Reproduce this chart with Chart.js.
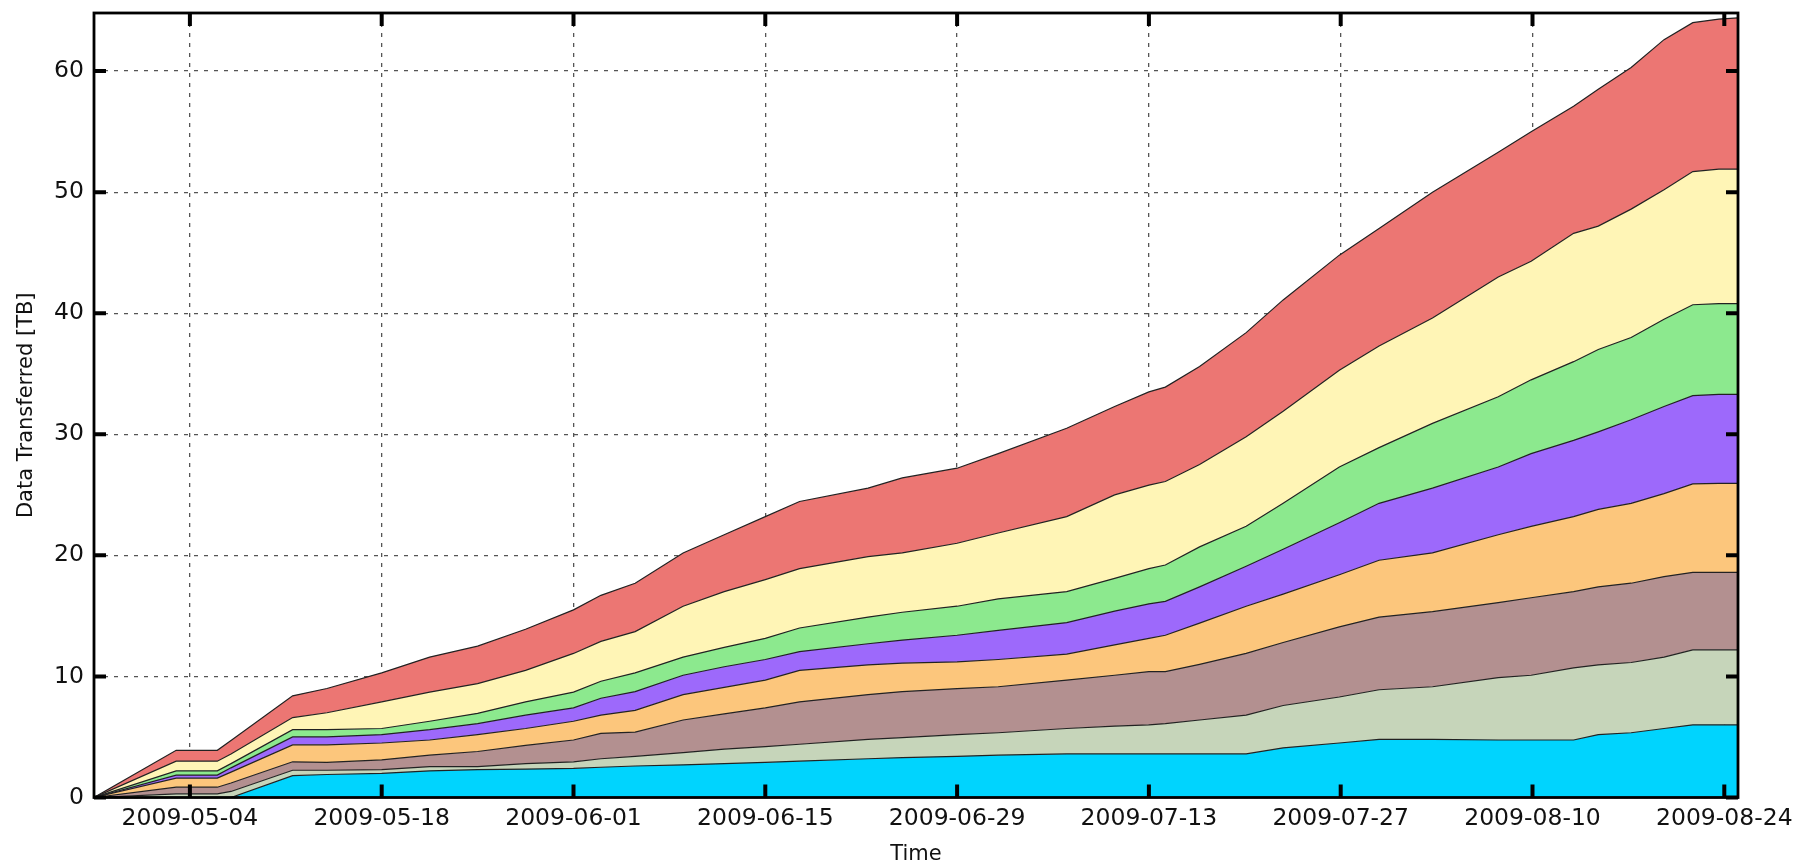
<!DOCTYPE html>
<html>
<head>
<meta charset="utf-8">
<title>Data Transferred</title>
<script src="https://cdn.jsdelivr.net/npm/chart.js@4.4.1/dist/chart.umd.min.js"></script>
<style>
  html, body { margin: 0; padding: 0; background: #fff; }
  #wrap { position: relative; width: 1815px; height: 861px; }
</style>
</head>
<body>
<div id="wrap"><canvas id="chart"></canvas></div>
<script>
// x values: days since 2009-04-27
const days = [0, 6, 9, 10, 14.5, 17, 21, 24.5, 28, 31.5,
    35, 37, 39.5, 43, 46, 49, 51.5, 56.5, 59, 63,
    66, 71, 74.5, 77, 78.2, 80.7, 84.1, 86.8, 90.9, 93.8,
    97.7, 102.5, 104.9, 108, 109.8, 112.2, 114.6, 116.7, 118.6, 120];

const xTickDays = [7, 21, 35, 49, 63, 77, 91, 105, 119];
const xTickLabels = ['2009-05-04', '2009-05-18', '2009-06-01', '2009-06-15', '2009-06-29',
    '2009-07-13', '2009-07-27', '2009-08-10', '2009-08-24'];
const yTicks = [0, 10, 20, 30, 40, 50, 60];

// cumulative top of each band (TB), bottom band first
const cyanTop = [0, 0, 0, 0, 1.8, 1.9, 2.0, 2.2, 2.3, 2.35,
    2.4, 2.5, 2.6, 2.7, 2.8, 2.9, 3.0, 3.2, 3.3, 3.4,
    3.5, 3.6, 3.6, 3.6, 3.6, 3.6, 3.6, 4.1, 4.5, 4.8,
    4.8, 4.75, 4.75, 4.75, 5.2, 5.35, 5.7, 6.0, 6.0, 6.0];
const sageTop = [0, 0.3, 0.3, 0.5, 2.25, 2.25, 2.3, 2.55, 2.55, 2.8,
    2.95, 3.2, 3.4, 3.7, 4.0, 4.2, 4.4, 4.8, 4.95, 5.2,
    5.35, 5.7, 5.9, 6.0, 6.1, 6.4, 6.8, 7.6, 8.3, 8.9,
    9.15, 9.9, 10.1, 10.7, 10.95, 11.15, 11.6, 12.2, 12.2, 12.2];
const mauveTop = [0, 0.85, 0.85, 1.2, 2.95, 2.9, 3.1, 3.5, 3.8, 4.3,
    4.75, 5.3, 5.4, 6.4, 6.9, 7.4, 7.9, 8.5, 8.75, 9.0,
    9.15, 9.7, 10.1, 10.4, 10.4, 11.0, 11.9, 12.8, 14.1, 14.9,
    15.35, 16.1, 16.5, 17.0, 17.4, 17.7, 18.25, 18.6, 18.6, 18.6];
const orangeTop = [0, 1.6, 1.6, 2.1, 4.35, 4.35, 4.5, 4.75, 5.2, 5.7,
    6.3, 6.8, 7.2, 8.5, 9.1, 9.7, 10.5, 10.95, 11.1, 11.2,
    11.4, 11.85, 12.6, 13.15, 13.4, 14.4, 15.8, 16.8, 18.4, 19.6,
    20.2, 21.7, 22.4, 23.2, 23.8, 24.3, 25.1, 25.9, 25.95, 25.95];
const purpleTop = [0, 1.85, 1.85, 2.45, 5.0, 5.0, 5.2, 5.6, 6.1, 6.8,
    7.4, 8.2, 8.75, 10.1, 10.8, 11.4, 12.05, 12.7, 13.0, 13.4,
    13.8, 14.45, 15.4, 16.0, 16.2, 17.4, 19.1, 20.5, 22.7, 24.3,
    25.55, 27.3, 28.4, 29.5, 30.2, 31.2, 32.3, 33.2, 33.3, 33.3];
const greenTop = [0, 2.2, 2.2, 2.8, 5.6, 5.6, 5.7, 6.3, 6.95, 7.9,
    8.7, 9.6, 10.3, 11.6, 12.4, 13.15, 14.0, 14.9, 15.3, 15.8,
    16.4, 17.0, 18.1, 18.9, 19.2, 20.7, 22.4, 24.3, 27.3, 28.9,
    30.9, 33.1, 34.5, 36.0, 37.0, 38.0, 39.5, 40.7, 40.8, 40.8];
const yellowTop = [0, 3.0, 3.0, 3.6, 6.6, 7.0, 7.9, 8.7, 9.4, 10.5,
    11.9, 12.9, 13.7, 15.8, 17.0, 18.0, 18.9, 19.9, 20.2, 21.0,
    21.85, 23.2, 25.0, 25.8, 26.1, 27.5, 29.8, 31.9, 35.3, 37.3,
    39.6, 43.0, 44.3, 46.6, 47.2, 48.6, 50.2, 51.7, 51.9, 51.9];
const redTop = [0, 3.9, 3.9, 4.7, 8.4, 9.0, 10.3, 11.6, 12.5, 13.9,
    15.5, 16.7, 17.7, 20.2, 21.7, 23.2, 24.45, 25.55, 26.4, 27.2,
    28.4, 30.5, 32.3, 33.5, 33.9, 35.6, 38.4, 41.1, 44.8, 47.0,
    50.0, 53.3, 55.0, 57.1, 58.5, 60.3, 62.6, 64.0, 64.3, 64.4];

const bands = [
    { values: cyanTop, color: '#00d4fe' },
    { values: sageTop, color: '#c6d5ba' },
    { values: mauveTop, color: '#b39090' },
    { values: orangeTop, color: '#fcc67c' },
    { values: purpleTop, color: '#9d69fb' },
    { values: greenTop, color: '#8ce98e' },
    { values: yellowTop, color: '#fff5b6' },
    { values: redTop, color: '#ec7673' }
];

const datasets = bands.map((b, i) => ({
    data: b.values.map((v, j) => ({ x: days[j], y: v })),
    backgroundColor: b.color,
    borderColor: '#222',
    borderWidth: 1.2,
    pointRadius: 0,
    tension: 0,
    fill: i === 0 ? 'origin' : '-1'
}));

// frame around the plot with inward tick marks on all four sides
const framePlugin = {
    id: 'frame',
    afterDraw(chart) {
        const { ctx, chartArea: a, scales } = chart;
        ctx.save();
        ctx.strokeStyle = '#000';
        ctx.lineWidth = 2.8;
        ctx.strokeRect(a.left, a.top, a.right - a.left, a.bottom - a.top);
        ctx.lineWidth = 4;
        ctx.lineCap = 'butt';
        xTickDays.forEach(d => {
            const px = scales.x.getPixelForValue(d);
            ctx.beginPath();
            ctx.moveTo(px, a.bottom); ctx.lineTo(px, a.bottom - 13);
            ctx.moveTo(px, a.top); ctx.lineTo(px, a.top + 13);
            ctx.stroke();
        });
        yTicks.forEach(v => {
            const py = scales.y.getPixelForValue(v);
            ctx.beginPath();
            ctx.moveTo(a.left, py); ctx.lineTo(a.left + 12, py);
            ctx.moveTo(a.right, py); ctx.lineTo(a.right - 12, py);
            ctx.stroke();
        });
        ctx.restore();
    }
};

const tickFont = { family: 'DejaVu Sans', size: 23.5 };

new Chart(document.getElementById('chart'), {
    type: 'line',
    data: { datasets: datasets },
    plugins: [framePlugin],
    options: {
        responsive: true,
        maintainAspectRatio: false,
        animation: false,
        events: [],
        layout: { padding: { top: 13, right: 77, bottom: 0, left: 0 } },
        plugins: {
            legend: { display: false },
            tooltip: { enabled: false },
            filler: { propagate: false }
        },
        scales: {
            x: {
                type: 'linear',
                min: 0,
                max: 120,
                z: 1,
                afterFit: s => { s.height = 63.5; s.paddingLeft = 0; s.paddingRight = 0; },
                afterBuildTicks: s => { s.ticks = xTickDays.map(v => ({ value: v })); },
                grid: { color: '#555', lineWidth: 1.3, drawTicks: false },
                border: { display: false, dash: [4, 6] },
                ticks: {
                    padding: 7,
                    color: '#111',
                    font: tickFont,
                    maxRotation: 0,
                    autoSkip: false,
                    callback: v => xTickLabels[xTickDays.indexOf(v)]
                },
                title: {
                    display: true,
                    text: 'Time',
                    color: '#111',
                    font: { family: 'DejaVu Sans', size: 21, lineHeight: 1 },
                    padding: { top: 0, bottom: -4 }
                }
            },
            y: {
                min: 0,
                max: 64.8,
                z: 1,
                afterFit: s => { s.width = 94; s.paddingTop = 0; s.paddingBottom = 0; },
                afterBuildTicks: s => { s.ticks = yTicks.map(v => ({ value: v })); },
                grid: { color: '#555', lineWidth: 1.3, drawTicks: false },
                border: { display: false, dash: [4, 6] },
                ticks: { padding: 10, color: '#111', font: tickFont },
                title: {
                    display: true,
                    text: 'Data Transferred [TB]',
                    color: '#111',
                    font: { family: 'DejaVu Sans', size: 21, lineHeight: 1 },
                    padding: { top: 16, bottom: 0 }
                }
            }
        }
    }
});
</script>
</body>
</html>
